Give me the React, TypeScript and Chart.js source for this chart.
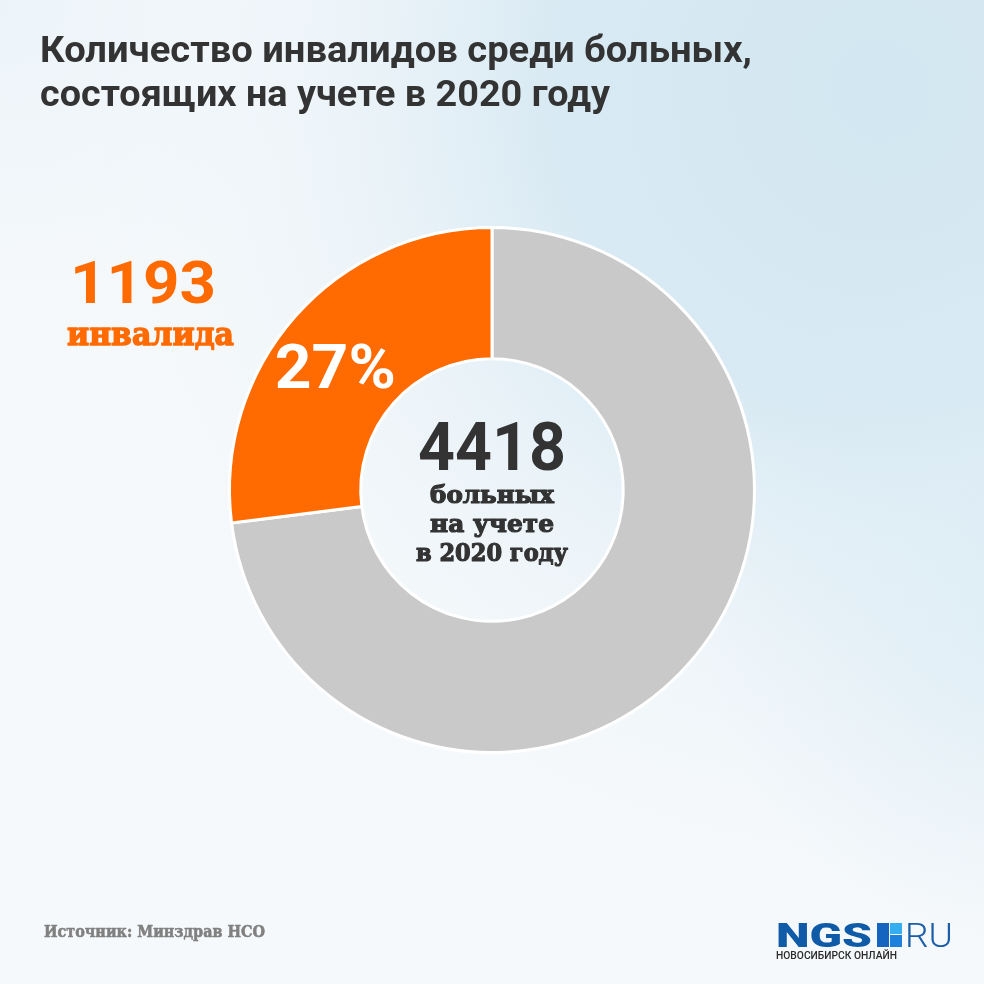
import React, { useEffect, useRef } from "react";
import { Chart, registerables } from "chart.js";

Chart.register(...registerables);

const categories = ["Остальные больные", "Инвалиды"];
const values = [3225, 1193];
const total = 4418;
const colors = ["#c9c9c9", "#ff6b00"];
const titleLines = ["Количество инвалидов среди больных,", "состоящих на учете в 2020 году"];
const centerLines = ["больных", "на учете", "в 2020 году"];
const disabledLabel = "инвалида";
const sourceText = "Источник: Минздрав НСО";

const SANS = "Roboto, 'Noto Sans', sans-serif";
const SLAB = "'DejaVu Serif', serif";

function fillFit(
  ctx: CanvasRenderingContext2D,
  text: string,
  x: number,
  y: number,
  w: number,
  font: string,
  color: string,
  align: CanvasTextAlign = "left",
  baseline: CanvasTextBaseline = "alphabetic",
  stroke = 0
) {
  ctx.save();
  ctx.font = font;
  const m = ctx.measureText(text).width;
  const s = w / m;
  ctx.translate(x, y);
  ctx.scale(s, 1);
  ctx.textAlign = align;
  ctx.textBaseline = baseline;
  ctx.fillStyle = color;
  ctx.fillText(text, 0, 0);
  if (stroke > 0) {
    ctx.strokeStyle = color;
    ctx.lineWidth = stroke;
    ctx.lineJoin = "round";
    ctx.strokeText(text, 0, 0);
  }
  ctx.restore();
}

const bgPlugin = {
  id: "bg",
  beforeDraw(chart: any) {
    const ctx: CanvasRenderingContext2D = chart.ctx;
    const W = chart.width;
    const H = chart.height;
    ctx.save();
    ctx.fillStyle = "#f6f9fb";
    ctx.fillRect(0, 0, W, H);
    let g = ctx.createRadialGradient(880, 90, 0, 880, 90, 820);
    g.addColorStop(0, "rgba(210,231,241,1)");
    g.addColorStop(0.4, "rgba(215,233,243,0.95)");
    g.addColorStop(0.72, "rgba(232,242,248,0.5)");
    g.addColorStop(1, "rgba(240,246,250,0)");
    ctx.fillStyle = g;
    ctx.fillRect(0, 0, W, H);
    g = ctx.createRadialGradient(0, 0, 0, 0, 0, 320);
    g.addColorStop(0, "rgba(236,244,249,1)");
    g.addColorStop(1, "rgba(236,244,249,0)");
    ctx.fillStyle = g;
    ctx.fillRect(0, 0, W, H);
    g = ctx.createRadialGradient(1060, 600, 0, 1060, 600, 360);
    g.addColorStop(0, "rgba(220,236,245,0.95)");
    g.addColorStop(1, "rgba(220,236,245,0)");
    ctx.fillStyle = g;
    ctx.fillRect(0, 0, W, H);
    ctx.restore();
  },
};

const textPlugin = {
  id: "texts",
  afterDraw(chart: any) {
    const ctx: CanvasRenderingContext2D = chart.ctx;
    const meta = chart.getDatasetMeta(0);
    const arcs = meta.data;
    const cx = arcs[0].x;
    const cy = arcs[0].y;

    // Title
    fillFit(ctx, titleLines[0], 40, 62, 712, `bold 37px ${SANS}`, "#333333");
    fillFit(ctx, titleLines[1], 40, 106, 570, `bold 37px ${SANS}`, "#333333");

    // Percentage inside orange arc
    const a = arcs[1].getProps(["startAngle", "endAngle", "innerRadius", "outerRadius"], true);
    const mid = (a.startAngle + a.endAngle) / 2;
    const r = (a.innerRadius + a.outerRadius) / 2;
    const px = cx + Math.cos(mid) * r;
    const py = cy + Math.sin(mid) * r;
    const pct = Math.round((values[1] / total) * 100) + "%";
    fillFit(ctx, pct, px - 9, py + 13, 121, `bold 62px ${SANS}`, "#ffffff", "center", "middle");

    // Center total
    fillFit(ctx, String(total), cx, 470, 148, `bold 66px ${SANS}`, "#333333", "center");
    fillFit(ctx, centerLines[0], cx, 503, 124, `bold 25px ${SLAB}`, "#333333", "center", "alphabetic", 1.2);
    fillFit(ctx, centerLines[1], cx, 532, 124, `bold 25px ${SLAB}`, "#333333", "center", "alphabetic", 1.2);
    fillFit(ctx, centerLines[2], cx, 561, 152, `bold 25px ${SLAB}`, "#333333", "center", "alphabetic", 1.2);

    // Disabled count
    fillFit(ctx, String(values[1]), 70, 303, 146, `bold 60px ${SANS}`, colors[1]);
    fillFit(ctx, disabledLabel, 67, 345, 167, `bold 32px ${SLAB}`, colors[1], "left", "alphabetic", 1.4);

    // Source
    fillFit(ctx, sourceText, 44, 937, 221, `bold 17px ${SLAB}`, "#808080", "left", "alphabetic", 0.6);

    // Logo
    fillFit(ctx, "NGS", 776, 947, 96, `900 34px ${SANS}`, "#0f5ba8");
    ctx.save();
    ctx.fillStyle = "#1565c0";
    ctx.fillRect(877, 923, 12, 24);
    ctx.fillStyle = "#35aef0";
    ctx.fillRect(890, 923, 12, 11);
    ctx.fillStyle = "#1e82dc";
    ctx.fillRect(890, 935, 12, 12);
    ctx.restore();
    fillFit(ctx, "RU", 905, 947, 48, `300 34px ${SANS}`, "#1a5ea8");
    fillFit(ctx, "НОВОСИБИРСК ОНЛАЙН", 776, 959, 121, `500 10px ${SANS}`, "#2a2a2a");
  },
};

export default function App() {
  const ref = useRef<HTMLCanvasElement | null>(null);
  useEffect(() => {
    if (!ref.current) return;
    const chart = new Chart(ref.current, {
      type: "doughnut",
      data: {
        labels: categories,
        datasets: [
          {
            data: values,
            backgroundColor: colors,
            borderColor: "#ffffff",
            borderWidth: 3,
          },
        ],
      },
      options: {
        responsive: false,
        devicePixelRatio: 1,
        animation: false,
        cutout: "50%",
        layout: { padding: { left: 228, right: 228, top: 226, bottom: 230 } },
        plugins: {
          legend: { display: false },
          tooltip: { enabled: false },
          title: { display: false },
        },
      },
      plugins: [bgPlugin, textPlugin],
    });
    return () => chart.destroy();
  }, []);
  return (
    <div style={{ position: "fixed", left: 0, top: 0, width: 984, height: 984 }}>
      <canvas ref={ref} width={984} height={984} style={{ display: "block", width: 984, height: 984 }} />
    </div>
  );
}
